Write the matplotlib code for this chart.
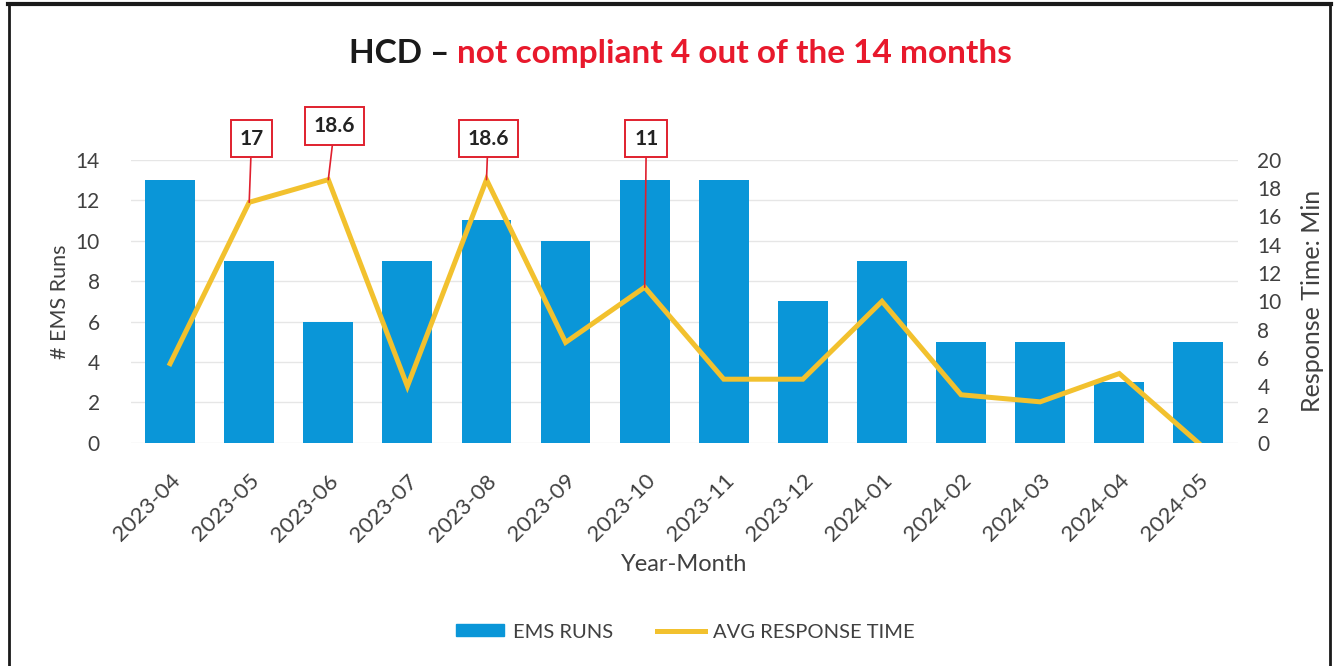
import numpy as np
import matplotlib
matplotlib.use('Agg')
import matplotlib.pyplot as plt
from matplotlib.lines import Line2D
from matplotlib.patches import Patch

plt.rcParams['font.family'] = ['Lato', 'DejaVu Sans']

MONTHS = ["2023-04", "2023-05", "2023-06", "2023-07", "2023-08", "2023-09",
          "2023-10", "2023-11", "2023-12", "2024-01", "2024-02", "2024-03",
          "2024-04", "2024-05"]
EMS_RUNS = [13, 9, 6, 9, 11, 10, 13, 13, 7, 9, 5, 5, 3, 5]
AVG_RESPONSE = [5.6, 17, 18.6, 4.0, 18.6, 7.1, 11, 4.5, 4.5, 10, 3.4, 2.9, 4.9, 0]
# months that missed the target, labelled with their response time
FLAGGED = ["2023-05", "2023-06", "2023-08", "2023-10"]

BAR_COLOR = '#0A96D8'
LINE_COLOR = '#F2C12E'
TEXT_COLOR = '#404040'


def main():
    fig = plt.figure(figsize=(13.39, 6.66), dpi=100)
    ax = fig.add_axes([0.0975, 0.335, 0.827, 0.425])
    ax2 = ax.twinx()

    x = np.arange(len(MONTHS))
    ax.bar(x, EMS_RUNS, width=0.63, color=BAR_COLOR, zorder=2)
    ax2.plot(x, AVG_RESPONSE, color=LINE_COLOR, lw=3.6, zorder=3,
             solid_joinstyle='miter')

    ax.set_xlim(-0.5, len(MONTHS) - 0.5)
    ax.set_ylim(0, 14)
    ax2.set_ylim(0, 20)
    ax.set_yticks(range(0, 15, 2))
    ax2.set_yticks(range(0, 21, 2))
    ax.set_xticks(x)
    ax.set_xticklabels(MONTHS, rotation=45, ha='right', rotation_mode='anchor')

    ax.grid(axis='y', color='#E6E6E6', lw=1, zorder=0)
    ax.set_axisbelow(True)
    for a in (ax, ax2):
        for s in a.spines.values():
            s.set_visible(False)
        a.tick_params(length=0, labelsize=15, colors=TEXT_COLOR)
    ax.tick_params(axis='x', labelsize=16, pad=20)
    ax.tick_params(axis='y', pad=22)
    ax2.tick_params(axis='y', pad=14)

    ax.set_xlabel("Year-Month", fontsize=17, color=TEXT_COLOR, labelpad=6)
    ax.set_ylabel("# EMS Runs", fontsize=15.5, color=TEXT_COLOR, labelpad=4)
    ax2.set_ylabel("Response Time: Min", fontsize=18, color=TEXT_COLOR, labelpad=14)

    # callouts for the non-compliant months
    offsets = {"2023-05": (0.03, 21.5), "2023-06": (0.08, 22.4),
               "2023-08": (0.02, 21.5), "2023-10": (0.02, 21.5)}
    for m in FLAGGED:
        i = MONTHS.index(m)
        val = AVG_RESPONSE[i]
        dx, ty = offsets[m]
        ax2.annotate(f"{val:g}", xy=(i, val), xytext=(i + dx, ty),
                     ha='center', va='center', fontsize=15, fontweight='bold',
                     color='#222222', annotation_clip=False, zorder=5,
                     bbox=dict(boxstyle='square,pad=0.42', fc='white',
                               ec='#E0202E', lw=1.4),
                     arrowprops=dict(arrowstyle='-', color='#E0202E', lw=1.2,
                                     shrinkA=0, shrinkB=0))

    # title in two colours
    t1 = fig.text(0.5, 0.92, "HCD \u2013 ", fontsize=24, fontweight='bold',
                  color='#1A1A1A', ha='right', va='center')
    fig.canvas.draw()
    w1 = t1.get_window_extent().width / fig.bbox.width
    t2 = fig.text(0.5, 0.92, "not compliant 4 out of the 14 months", fontsize=24,
                  fontweight='bold', color='#E8192C', ha='left', va='center')
    w2 = t2.get_window_extent().width / fig.bbox.width
    shift = (w1 - w2) / 2 + 0.008
    t1.set_x(0.5 + shift)
    t2.set_x(0.5 + shift)

    handles = [Patch(color=BAR_COLOR, label="EMS RUNS"),
               Line2D([0], [0], color=LINE_COLOR, lw=3.6, label="AVG RESPONSE TIME")]
    leg = fig.legend(handles=handles, loc='center', bbox_to_anchor=(0.512, 0.051),
                     ncol=2, frameon=False, fontsize=14.5, handlelength=2.4,
                     handleheight=0.55, columnspacing=2.2, handletextpad=0.4)
    for t in leg.get_texts():
        t.set_color(TEXT_COLOR)

    # frame around the chart
    frame_kw = dict(color='#1A1A1A', transform=fig.transFigure)
    fig.add_artist(Line2D([0.006, 0.994], [0.994, 0.994], lw=3, **frame_kw))
    fig.add_artist(Line2D([0.0065, 0.0065], [0.0, 0.994], lw=2, **frame_kw))
    fig.add_artist(Line2D([0.9935, 0.9935], [0.0, 0.994], lw=2, **frame_kw))

    fig.savefig("out.png", dpi=100)
    plt.close(fig)


if __name__ == "__main__":
    main()
